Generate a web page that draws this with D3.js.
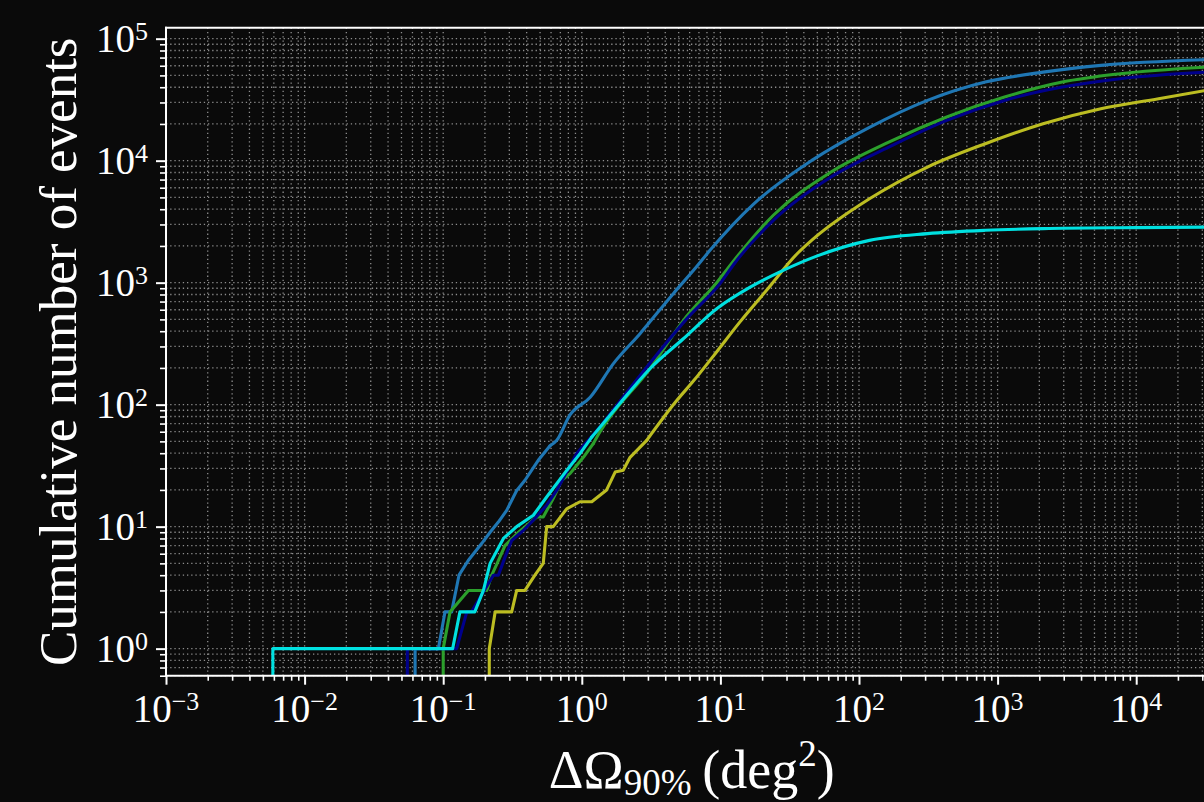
<!DOCTYPE html>
<html>
<head>
<meta charset="utf-8">
<script src="https://cdn.jsdelivr.net/npm/d3@7"></script>
<style>
  html, body { margin: 0; padding: 0; background: #0a0a0a; }
  svg { display: block; }
</style>
</head>
<body>
<svg id="chart" width="1204" height="802"></svg>
<script>
// ---------------- data ----------------
const xTickExponents = [-3, -2, -1, 0, 1, 2, 3, 4];
const yTickExponents = [0, 1, 2, 3, 4, 5];

const seriesColors = ["#1f77b4", "#2ca02c", "#00008b", "#bcbd22", "#00e0e0"];

// steel blue series
const blueArea  = [0.0627, 0.0627, 0.0923, 0.103, 0.115, 0.130, 0.152, 0.190, 0.218, 0.250, 0.287, 0.339, 0.389, 0.485, 0.59, 0.66, 0.82, 1.15, 1.69, 2.63, 4.57, 6.70, 8.41, 17.5, 45.7, 119, 312, 815, 2128, 5560, 32000];
const blueCount = [0, 1, 1, 2, 2, 4, 5.3, 7.3, 9, 10.9, 13.6, 19.8, 24, 35, 46, 51, 82, 115, 217, 382, 813, 1343, 1840, 4443, 10050, 18750, 31200, 44100, 53200, 60400, 67300];

// green series
const greenArea  = [0.1, 0.1, 0.112, 0.152, 0.206, 0.224, 0.245, 0.279, 0.35, 0.473, 0.527, 0.622, 0.716, 0.822, 1.03, 1.21, 1.35, 3.10, 5.71, 9.40, 12.7, 24.1, 62.8, 164, 430, 1122, 2930, 7640, 32000];
const greenCount = [0, 1, 2, 3, 3, 4, 5, 7, 9, 12, 12, 17, 24, 27.2, 37.2, 47.9, 59.6, 197, 530, 1000, 1550, 3570, 8070, 14200, 22800, 33200, 44100, 51600, 58500];

// navy series
const navyArea  = [0.0551, 0.0551, 0.125, 0.148, 0.16, 0.230, 0.250, 0.279, 0.312, 0.378, 0.447, 0.558, 0.659, 0.918, 1.35, 2.94, 5.71, 9.93, 12.7, 24.1, 62.8, 164, 430, 1122, 2930, 7640, 32000];
const navyCount = [0, 1, 1, 2, 2, 4, 4, 5.6, 7.7, 9.3, 11.3, 15, 19.8, 39.7, 65.5, 203, 505, 982, 1450, 3240, 7340, 12920, 21400, 31200, 40100, 47000, 53200];

// olive series
const oliveArea  = [0.215, 0.215, 0.237, 0.312, 0.339, 0.389, 0.459, 0.527, 0.558, 0.622, 0.778, 0.97, 1.18, 1.51, 1.74, 1.99, 2.23, 2.94, 4.84, 6.38, 8.89, 13.8, 21.6, 35.5, 45.7, 119, 312, 815, 2128, 5560, 14500, 32000];
const oliveCount = [0, 1, 2, 2, 3, 3, 4, 5, 10, 10, 14, 16, 16, 20, 28, 29, 37, 51, 108, 156, 250, 475, 870, 1710, 2230, 4870, 8870, 13780, 20100, 26700, 32200, 37700];

// cyan series
const cyanArea  = [0.0059, 0.0059, 0.117, 0.132, 0.169, 0.195, 0.218, 0.272, 0.339, 0.447, 0.558, 0.778, 0.97, 1.18, 1.79, 3.10, 5.40, 9.40, 16.4, 28.4, 49.5, 119, 312, 815, 2128, 10000, 32000];
const cyanCount = [0, 1, 1, 2, 2, 3, 5, 8, 10, 12.4, 17.5, 28.9, 39.7, 54.2, 95.5, 197, 347, 612, 920, 1262, 1650, 2222, 2524, 2687, 2773, 2826, 2856];

// drawing order (bottom to top)
const seriesList = [
  { area: blueArea,  count: blueCount,  color: seriesColors[0] },
  { area: greenArea, count: greenCount, color: seriesColors[1] },
  { area: navyArea,  count: navyCount,  color: seriesColors[2] },
  { area: oliveArea, count: oliveCount, color: seriesColors[3] },
  { area: cyanArea,  count: cyanCount,  color: seriesColors[4] }
];

// ---------------- layout ----------------
const bgColor = "#0a0a0a";
const pL = 166, pR = 1205.5, pT = 27.8, pB = 675.7;
const fontFam = "'Liberation Serif', 'Times New Roman', serif";

const svg = d3.select("#chart");
svg.append("rect").attr("width", 1204).attr("height", 802).attr("fill", bgColor);

const x = d3.scaleLog().domain([1e-3, Math.pow(10, 4.5)]).range([pL, pR]);
const y = d3.scaleLog().domain([0.6, 1.228e5]).range([pB, pT]);

// tick values
const xMajor = xTickExponents.map(e => Math.pow(10, e));
const yMajor = yTickExponents.map(e => Math.pow(10, e));
function minors(scale) {
  const [d0, d1] = scale.domain();
  const out = [];
  for (let e = Math.floor(Math.log10(d0)); e <= Math.ceil(Math.log10(d1)); e++) {
    for (let k = 2; k <= 9; k++) {
      const v = k * Math.pow(10, e);
      if (v >= d0 * 0.9999 && v <= d1 * 1.0001) out.push(v);
    }
  }
  return out;
}
const xMinor = minors(x);
const yMinor = minors(y);

// ---------------- grid ----------------
const grid = svg.append("g").attr("stroke", "#a5a5a5").attr("stroke-width", 1.3)
  .attr("stroke-dasharray", "1.3,2.9").attr("opacity", 0.85);
grid.selectAll("line.gx").data(xMajor.concat(xMinor)).join("line")
  .attr("class", "gx")
  .attr("x1", d => x(d)).attr("x2", d => x(d)).attr("y1", pT).attr("y2", pB);
grid.selectAll("line.gy").data(yMajor.concat(yMinor)).join("line")
  .attr("class", "gy")
  .attr("y1", d => y(d)).attr("y2", d => y(d)).attr("x1", pL).attr("x2", pR);

// ---------------- curves ----------------
svg.append("clipPath").attr("id", "plotClip").append("rect")
  .attr("x", pL).attr("y", pT).attr("width", pR - pL).attr("height", pB - pT);

const lineLow = d3.line()
  .x(d => x(d[0]))
  .y(d => y(Math.max(d[1], 0.3)));
const lineHigh = d3.line()
  .x(d => x(d[0]))
  .y(d => y(d[1]))
  .curve(d3.curveMonotoneX);

const curves = svg.append("g").attr("clip-path", "url(#plotClip)");
seriesList.forEach(s => {
  const pts = s.area.map((a, i) => [a, s.count[i]]);
  const split = s.count.findIndex(c => c >= 40);
  const g = curves.append("g").attr("fill", "none").attr("stroke", s.color)
    .attr("stroke-width", 3.1).attr("stroke-linejoin", "round").attr("stroke-linecap", "round");
  g.append("path").datum(pts.slice(0, split + 1)).attr("d", lineLow);
  g.append("path").datum(pts.slice(split)).attr("d", lineHigh);
});

// ---------------- axes (ticks) ----------------
const xAxisMajor = d3.axisBottom(x).tickValues(xMajor).tickSize(9).tickFormat("");
const xAxisMinor = d3.axisBottom(x).tickValues(xMinor).tickSize(5).tickFormat("");
const yAxisMajor = d3.axisLeft(y).tickValues(yMajor).tickSize(10).tickFormat("");
const yAxisMinor = d3.axisLeft(y).tickValues(yMinor).tickSize(6).tickFormat("");

[[xAxisMajor, `translate(0,${pB})`, 2], [xAxisMinor, `translate(0,${pB})`, 1.6],
 [yAxisMajor, `translate(${pL},0)`, 2], [yAxisMinor, `translate(${pL},0)`, 1.6]].forEach(([ax, tr, w]) => {
  const g = svg.append("g").attr("transform", tr).call(ax);
  g.select(".domain").remove();
  g.selectAll(".tick line").attr("stroke", "#ffffff").attr("stroke-width", w);
});

// spines
const spines = svg.append("g").attr("stroke", "#ffffff").attr("stroke-width", 2).attr("stroke-linecap", "square");
spines.append("line").attr("x1", pL).attr("x2", pL).attr("y1", pT).attr("y2", pB);
spines.append("line").attr("x1", pL).attr("x2", pR).attr("y1", pB).attr("y2", pB);
spines.append("line").attr("x1", pL).attr("x2", pR).attr("y1", pT).attr("y2", pT);

// tick labels
const tickFont = 39, supFont = 26;
function expLabel(sel, e) {
  sel.append("tspan").text("10");
  sel.append("tspan").attr("font-size", supFont).attr("dy", -12)
    .text(e < 0 ? "\u2212" + Math.abs(e) : String(e));
}
xTickExponents.forEach(e => {
  const t = svg.append("text")
    .attr("x", x(Math.pow(10, e))).attr("y", 722)
    .attr("text-anchor", "middle").attr("fill", "#ffffff")
    .attr("font-family", fontFam).attr("font-size", tickFont);
  expLabel(t, e);
});
yTickExponents.forEach(e => {
  const t = svg.append("text")
    .attr("x", 148).attr("y", y(Math.pow(10, e)) + 13.5)
    .attr("text-anchor", "end").attr("fill", "#ffffff")
    .attr("font-family", fontFam).attr("font-size", tickFont);
  expLabel(t, e);
});

// axis labels
svg.append("text")
  .attr("transform", `translate(76,${(pT + pB) / 2}) rotate(-90)`)
  .attr("text-anchor", "middle").attr("fill", "#ffffff")
  .attr("font-family", fontFam).attr("font-size", 53)
  .text("Cumulative number of events");

const xl = svg.append("text")
  .attr("x", (pL + pR) / 2 + 6).attr("y", 788)
  .attr("text-anchor", "middle").attr("fill", "#ffffff")
  .attr("font-family", fontFam).attr("font-size", 54);
xl.append("tspan").text("\u0394\u03A9");
xl.append("tspan").attr("font-size", 37).attr("dy", 7).text("90%");
xl.append("tspan").attr("dy", -7).text("\u2009(deg");
xl.append("tspan").attr("font-size", 37).attr("dy", -22).text("2");
xl.append("tspan").attr("dy", 22).text(")");
</script>
</body>
</html>
